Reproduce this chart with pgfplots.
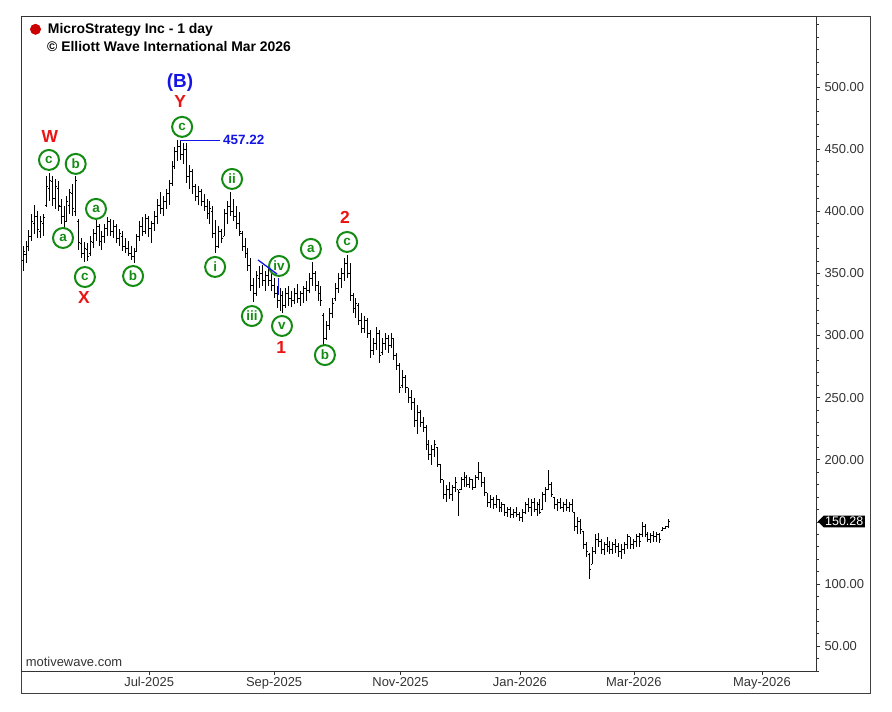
\documentclass[border=0pt]{standalone}
\usepackage{fontspec}
\setmainfont{Liberation Sans}
\usepackage{pgfplots}
\usepackage{pgfplotstable}
\pgfplotsset{compat=1.18}
\usetikzlibrary{shapes.symbols}
\definecolor{ewgreen}{RGB}{20,140,20}
\definecolor{ewred}{RGB}{235,20,20}
\definecolor{ewblue}{RGB}{20,20,230}
\pgfdeclareplotmark{oTick}{\pgfpathmoveto{\pgfpoint{-1.5bp}{0pt}}\pgfpathlineto{\pgfpointorigin}\pgfusepathqstroke}
\pgfdeclareplotmark{cTick}{\pgfpathmoveto{\pgfpointorigin}\pgfpathlineto{\pgfpoint{1.5bp}{0pt}}\pgfusepathqstroke}
\pgfplotstableread{
x o h l c
0 360 372 352 368
1 365 376 358 372
2 372 385 368 380
3 380 398 376 392
4 390 405 382 396
5 396 400 378 385
6 384 396 378 392
7 390 398 380 395
8 405 428 403 420
9 418 431 408 425
10 424 428 404 410
11 410 426 402 420
12 418 424 400 405
13 404 410 390 395
14 396 404 386 392
15 392 412 392 408
16 405 418 398 415
17 414 422 396 402
18 400 428 396 425
19 392 394 369 375
20 374 378 362 366
21 366 375 359 370
22 369 374 360 364
23 366 380 364 376
24 375 386 370 382
25 382 393 376 388
26 388 390 372 376
27 376 384 369 380
28 380 390 374 386
29 386 395 380 392
30 392 394 380 384
31 384 393 378 388
32 388 390 374 378
33 378 386 372 382
34 380 384 368 372
35 372 378 366 370
36 370 376 364 366
37 366 372 361 364
38 364 370 358 368
39 368 382 368 380
40 380 392 376 388
41 388 395 380 384
42 384 398 382 394
43 394 396 379 386
44 386 392 374 390
45 390 400 384 396
46 396 410 390 405
47 405 415 398 402
48 402 412 396 408
49 408 418 402 414
50 414 425 405 420
51 422 440 420 436
52 436 452 434 448
53 448 457 440 452
54 452 457.22 441 446
55 446 455 438 450
56 450 455 423 428
57 428 437 418 432
58 432 434 414 420
59 420 422 408 412
60 412 420 405 416
61 416 418 404 408
62 408 414 400 404
63 404 410 394 398
64 398 408 390 402
65 400 404 378 382
66 382 393 366 372
67 372 388 370 384
68 384 386 374 378
69 380 402 380 398
70 398 408 390 404
71 404 415 396 400
72 400 410 392 396
73 396 404 386 390
74 390 399 380 384
75 382 384 368 372
76 372 378 362 366
77 366 370 352 356
78 356 362 336 340
79 340 346 327 334
80 334 352 332 348
81 346 356 338 350
82 350 357 340 344
83 344 352 336 348
84 348 354 340 344
85 344 350 336 340
86 340 346 330 334
87 334 340 322 328
88 328 338 320 332
89 332 336 318 324
90 324 338 322 334
91 334 340 324 330
92 330 336 323 328
93 328 338 325 334
94 334 341 326 330
95 330 336 324 334
96 334 340 326 338
97 338 344 328 336
98 336 350 334 346
99 346 359 340 350
100 350 352 336 340
101 340 344 328 334
102 334 340 324 328
103 316 318 292 298
104 298 312 296 308
105 308 322 304 318
106 318 330 314 326
107 330 342 328 338
108 338 350 334 346
109 346 354 338 350
110 350 362 344 358
111 358 365 346 350
112 350 358 328 332
113 332 334 318 322
114 322 330 314 326
115 324 326 308 312
116 312 318 302 306
117 306 316 302 312
118 312 314 298 302
119 302 304 282 288
120 288 298 284 294
121 294 307 288 302
122 302 304 278 284
123 286 298 284 294
124 294 302 288 298
125 298 300 286 292
126 292 302 290 298
127 298 298 280 284
128 284 286 272 276
129 276 278 254 258
130 260 272 258 266
131 266 268 254 258
132 258 258 246 250
133 250 256 240 246
134 246 250 226 232
135 232 244 221 238
136 238 240 226 230
137 230 234 222 226
138 226 228 208 212
139 212 216 200 204
140 204 212 196 208
141 208 216 202 212
142 210 210 194 196
143 196 196 181 184
144 184 184 168 172
145 172 180 166 176
146 176 182 168 172
147 172 180 167 178
148 178 186 174 182
149 176 176 155 174
150 176 186 176 184
151 184 190 178 186
152 186 188 178 180
153 180 186 177 184
154 184 184 176 178
155 178 188 178 186
156 186 198 184 190
157 190 190 178 182
158 182 186 171 174
159 174 173 162 166
160 166 172 161 168
161 168 170 160 164
162 164 172 161 168
163 168 168 158 162
164 162 166 158 164
165 164 164 155 158
166 158 162 154 160
167 160 162 153 156
168 156 160 153 158
169 158 162 154 156
170 156 158 151 154
171 154 160 150 158
172 158 166 156 164
173 164 169 158 162
174 162 168 155 166
175 166 169 158 160
176 160 166 155 164
177 164 168 156 158
178 160 174 160 172
179 172 178 166 176
180 176 192 176 180
181 180 182 170 172
182 170 170 160 164
183 164 168 159 166
184 166 169 160 162
185 162 166 158 164
186 164 168 159 162
187 162 166 158 164
188 164 168 158 160
189 158 158 143 146
190 146 154 140 150
191 150 152 140 144
192 142 143 128 132
193 132 134 122 126
194 124 125 104 112
195 116 130 116 126
196 126 140 124 136
197 136 141 130 134
198 134 136 124 128
199 128 134 123 132
200 132 138 126 130
201 130 135 124 128
202 128 134 124 132
203 132 136 125 130
204 130 133 122 126
205 126 132 120 128
206 128 134 124 132
207 132 140 128 138
208 138 138 128 132
209 132 136 128 134
210 134 140 130 138
211 138 141 130 134
212 140 150 138 146
213 146 148 138 140
214 140 142 134 136
215 136 141 133 139
216 139 143 134 138
217 138 142 134 140
218 140 141 133 136
219 143 146 143 145
220 145 147 144 146
221 146 152 145 150.28
}\ohlc
\begin{document}
\begin{tikzpicture}
\useasboundingbox (0,0) rectangle (892bp,-712bp);
\draw[black!75, line width=0.8bp] (21bp,-16bp) rectangle (870bp,-693bp);
\begin{axis}[
  at={(21bp,-16bp)}, anchor=north west,
  scale only axis, width=795bp, height=655bp,
  xmin=-0.685, xmax=271.6, ymin=30, ymax=557,
  clip=false,
  axis line style={black!80, line width=0.8bp},
  tick align=outside,
  tick style={black!80, line width=0.6bp},
  major tick length=4bp, minor tick length=3bp,
  xtick={43.2,86.0,129.3,170.2,209.2,253.1},
  xticklabels={Jul-2025,Sep-2025,Nov-2025,Jan-2026,Mar-2026,May-2026},
  xtick pos=bottom,
  ytick={50,100,...,500},
  minor ytick={30,40,...,550},
  ytick pos=right, yticklabel pos=right,
  /pgf/number format/assume math mode=true,
  yticklabel={\pgfmathprintnumber[fixed,fixed zerofill,precision=2]{\tick}},
  ticklabel style={font=\fontsize{13}{15}\selectfont, text=black!80},
  xticklabel style={yshift=1bp},
  yticklabel style={xshift=1bp},
]
\addplot[draw=none, mark=none,
  error bars/.cd, y dir=both, y explicit, error mark=none,
  error bar style={draw=black, line width=0.75bp}]
  table[x=x, y expr=(\thisrow{h}+\thisrow{l})/2, y error expr=(\thisrow{h}-\thisrow{l})/2] {\ohlc};
\addplot[black, only marks, mark=oTick, mark options={line width=0.75bp}] table[x=x, y=o] {\ohlc};
\addplot[black, only marks, mark=cTick, mark options={line width=0.75bp}] table[x=x, y=c] {\ohlc};

% title
\fill[red!80!black] (axis cs:4.28,546.3) circle[radius=5.5bp];
\node[anchor=west, font=\bfseries\fontsize{14}{16}\selectfont, inner sep=0pt] at (axis cs:8.46,545.9) {MicroStrategy Inc - 1 day};
\node[anchor=west, font=\bfseries\fontsize{14}{16}\selectfont, inner sep=0pt] at (axis cs:8.2,532.2) {© Elliott Wave International Mar 2026};
\node[anchor=west, font=\fontsize{13}{15}\selectfont, text=black!80, inner sep=0pt] at (axis cs:0.9,37.3) {motivewave.com};

% annotations
\tikzset{circ/.style={circle, draw=ewgreen, line width=2bp, minimum size=20bp, inner sep=0pt, text=ewgreen, font=\bfseries\fontsize{13.5}{14}\selectfont},
  rl/.style={text=ewred, font=\bfseries\fontsize{17.5}{19}\selectfont, inner sep=0pt}}
\node[circ] at (axis cs:8.9,441.2) {c};
\node[circ] at (axis cs:18.05,438.0) {b};
\node[circ] at (axis cs:13.7,378.4) {a};
\node[circ] at (axis cs:25.0,401.8) {a};
\node[circ] at (axis cs:21.2,347.0) {c};
\node[circ] at (axis cs:37.7,347.8) {b};
\node[circ] at (axis cs:54.5,467.8) {c};
\node[circ] at (axis cs:71.6,425.9) {ii};
\node[circ] at (axis cs:65.8,355.1) {i};
\node[circ] at (axis cs:78.4,315.6) {iii};
\node[circ] at (axis cs:87.7,355.9) {iv};
\node[circ] at (axis cs:88.7,307.6) {v};
\node[circ] at (axis cs:98.6,369.6) {a};
\node[circ] at (axis cs:111.0,375.2) {c};
\node[circ] at (axis cs:103.4,284.2) {b};
\node[rl] at (axis cs:9.2,459.7) {W};
\node[rl] at (axis cs:20.9,330.9) {X};
\node[rl] at (axis cs:53.8,487.9) {Y};
\node[rl] at (axis cs:110.3,395.3) {2};
\node[rl] at (axis cs:88.4,289.9) {1};
\node[text=ewblue, font=\bfseries\fontsize{19}{21}\selectfont, inner sep=0pt] at (axis cs:53.8,503.2) {(B)};
\draw[ewblue, line width=1bp] (axis cs:53.8,457.22) -- (axis cs:67.5,457.22);
\node[anchor=west, text=ewblue, font=\bfseries\fontsize{13.5}{15}\selectfont, inner sep=0pt] at (axis cs:68.5,457.22) {457.22};
\draw[ewblue, line width=1.3bp] (axis cs:80.5,360.7) -- (axis cs:87.0,349.4);
\draw[ewblue, line width=1.3bp] (axis cs:87.4,346.2) -- (axis cs:87.4,332.5);
% price tag
\node[signal, signal to=west, fill=black, text=white, anchor=west, inner xsep=1.5bp, inner ysep=1.5bp, font=\fontsize{12.5}{13}\selectfont, xshift=1.5bp] at (axis cs:271.6,150.28) {150.28};
\end{axis}
\end{tikzpicture}
\end{document}
